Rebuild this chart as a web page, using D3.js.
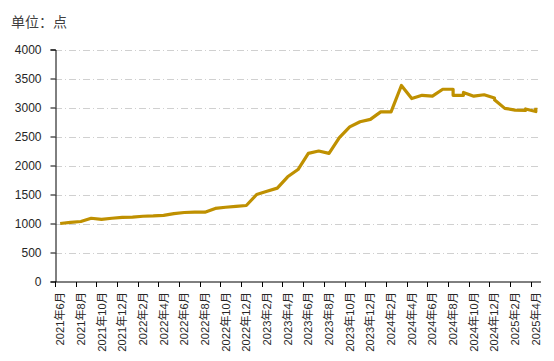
<!DOCTYPE html>
<html><head><meta charset="utf-8">
<script src="https://cdn.jsdelivr.net/npm/d3@7"></script>
<style>
html,body{margin:0;padding:0;background:#fff;}
svg{display:block;}
text{font-family:"Liberation Sans","Noto Sans CJK SC",sans-serif;}
</style></head>
<body>
<script>
// ---- data ----
const months = ["2021-06","2021-07","2021-08","2021-09","2021-10","2021-11","2021-12",
"2022-01","2022-02","2022-03","2022-04","2022-05","2022-06","2022-07","2022-08","2022-09","2022-10","2022-11","2022-12",
"2023-01","2023-02","2023-03","2023-04","2023-05","2023-06","2023-07","2023-08","2023-09","2023-10","2023-11","2023-12",
"2024-01","2024-02","2024-03","2024-04","2024-05","2024-06","2024-07","2024-08","2024-09","2024-10","2024-11","2024-12",
"2025-01","2025-02","2025-03","2025-04"];
const pointMonths = ["2021-06","2021-07","2021-08","2021-09","2021-10","2021-11","2021-12",
"2022-01","2022-02","2022-03","2022-04","2022-05","2022-06","2022-07","2022-08","2022-09","2022-10","2022-11","2022-12",
"2023-01","2023-02","2023-03","2023-04","2023-05","2023-06","2023-07","2023-08","2023-09","2023-10","2023-11","2023-12",
"2024-01","2024-02","2024-03","2024-04","2024-05","2024-06","2024-07","2024-08","2024-08","2024-09","2024-09","2024-10","2024-11","2024-12","2024-12",
"2025-01","2025-02","2025-03","2025-03","2025-04","2025-04"];
const values = [1000,1020,1035,1090,1070,1090,1105,
1110,1125,1130,1140,1170,1190,1195,1195,1260,1280,1295,1310,
1500,1555,1610,1805,1930,2210,2250,2210,2480,2665,2755,2795,
2925,2925,3380,3155,3210,3195,3315,3315,3210,3210,3260,3195,3220,3165,3135,
2985,2955,2950,2975,2930,2995];
const yTicks = [0,500,1000,1500,2000,2500,3000,3500,4000];
const unitLabel = "单位：点";

function monthLabel(m){ const [yy,mo]=m.split("-"); return yy+"年"+(+mo)+"月"; }
const labelMonths = months.filter((m,i)=>i%2===0);

// ---- layout ----
const W=554,H=361;
const mLeft=55, mRight=541, mTop=49.5, mBottom=281.5;
const svg=d3.select("body").append("svg").attr("width",W).attr("height",H);

const x=d3.scaleBand().domain(months).range([mLeft,mRight]).padding(0);
const y=d3.scaleLinear().domain([0,4000]).range([mBottom,mTop]);

// unit label
svg.append("text").attr("x",11).attr("y",27).attr("font-size",14).attr("fill","#404040").text(unitLabel);

// gridlines
svg.append("g").selectAll("line").data(yTicks.filter(d=>d>0)).join("line")
 .attr("x1",mLeft).attr("x2",mRight).attr("y1",d=>Math.round(y(d))+0.5).attr("y2",d=>Math.round(y(d))+0.5)
 .attr("stroke","#d0d0d0").attr("stroke-width",1).attr("stroke-dasharray","7,3,1,3");

// y axis
const yAxis=d3.axisLeft(y).tickValues(yTicks).tickFormat(d3.format("d")).tickSize(5).tickPadding(9);
const gy=svg.append("g").attr("transform",`translate(${mLeft+0.5},0)`).call(yAxis);
gy.select(".domain").attr("stroke","#000");
gy.selectAll(".tick line").attr("stroke","#000");
gy.selectAll(".tick text").attr("font-size",12).attr("fill","#262626").attr("font-family","Liberation Sans, sans-serif");

// x axis (ticks at month boundaries every two months)
const gx=svg.append("g").attr("transform",`translate(0,${mBottom+0.5})`);
gx.append("line").attr("x1",mLeft).attr("x2",mRight).attr("stroke","#000");
gx.selectAll("line.t").data(labelMonths).join("line").attr("class","t")
 .attr("x1",d=>Math.round(x(d))+0.5).attr("x2",d=>Math.round(x(d))+0.5).attr("y1",0).attr("y2",5).attr("stroke","#000");
gx.selectAll("text").data(labelMonths).join("text")
 .attr("transform",d=>`translate(${x(d)+x.bandwidth()/2+4},10) rotate(-90)`)
 .attr("text-anchor","end").attr("font-size",11.2).attr("fill","#262626")
 .text(monthLabel);

// line
const pts=pointMonths.map((m,i)=>[x(m)+x.bandwidth()/2, y(values[i])]);
svg.append("path").datum(pts).attr("d",d3.line())
 .attr("fill","none").attr("stroke","#BF9000").attr("stroke-width",3.2).attr("stroke-linejoin","round");
</script>
</body></html>
